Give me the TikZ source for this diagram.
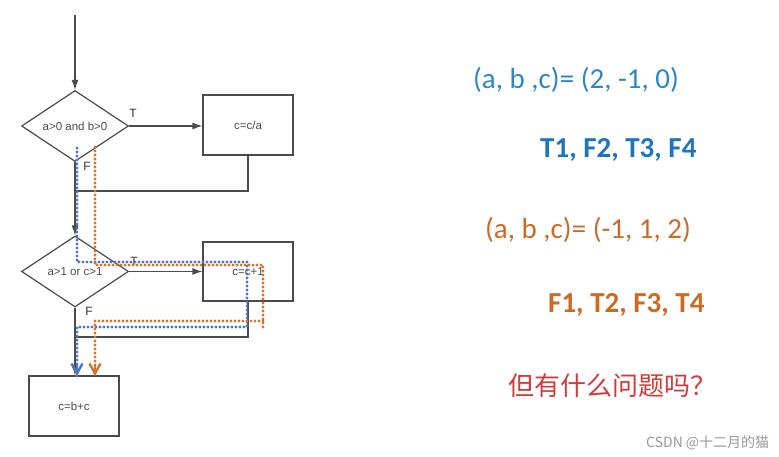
\documentclass[tikz,border=0pt]{standalone}
\usepackage{fontspec}
\setmainfont{Carlito}
\newfontfamily\flowfont{Liberation Sans}
\newfontfamily\cjk{Noto Sans CJK SC}
\usetikzlibrary{shapes.geometric,arrows.meta}
\definecolor{lineg}{HTML}{4A4A4A}
\definecolor{pblue}{HTML}{4A78C8}
\definecolor{porange}{HTML}{D2752E}
\definecolor{tblue}{HTML}{2E86C8}
\definecolor{tbblue}{HTML}{1F74BE}
\definecolor{torange}{HTML}{CC6A24}
\definecolor{tred}{HTML}{D23A3A}
\tikzset{
  flowline/.style={draw=lineg, line width=1.2pt},
  flowarrow/.style={flowline, -{Latex[length=10pt,width=7pt]}},
  decision/.style={diamond, draw=lineg, line width=1.2pt, inner sep=0pt,
    minimum width=107pt, minimum height=71pt, aspect=1.5,
    font=\flowfont\fontsize{11.5}{13}\selectfont, text=black!70},
  procbox/.style={rectangle, draw=lineg, line width=1.2pt, minimum width=90pt,
    minimum height=60pt, font=\flowfont\fontsize{11.5}{13}\selectfont, text=black!70},
  branchlabel/.style={font=\flowfont\fontsize{12}{14}\selectfont, text=black!80},
  dotpath/.style={line width=3.2pt, line cap=round, dash pattern=on 0pt off 4pt},
  opentip/.style={-{Straight Barb[length=10pt,width=11pt,line width=2.4pt]}},
  sidetext/.style={font=\fontsize{29}{32}\selectfont, anchor=west, inner sep=0pt},
  boldtext/.style={font=\bfseries\fontsize{29}{32}\selectfont, anchor=west, inner sep=0pt},
}
\begin{document}
\begin{tikzpicture}[x=1pt,y=-1pt]
\useasboundingbox (0,0) rectangle (779,457);
% nodes
\coordinate (start) at (75,15);
\node[decision] (d1) at (75,126) {a>0 and b>0};
\node[procbox] (b1) at (248,125) {c=c/a};
\node[decision] (d2) at (75,271.5) {a>1 or c>1};
\node[procbox, minimum height=59pt] (b2) at (248,271.5) {c=c+1};
\node[procbox] (b3) at (74,406) {c=b+c};
\node[branchlabel] (t1) at (133,113) {T};
\node[branchlabel] (f1) at (87,166) {F};
\node[branchlabel] (t2) at (134,261) {T};
\node[branchlabel] (f2) at (89,311) {F};
% connectors
\coordinate (m1) at (75,191);
\coordinate (m2) at (75,337);
\draw[flowarrow] (start) -- (d1.north);
\draw[flowarrow] (d1.east) -- (d1.east -| b1.west);
\draw[flowarrow] (d1.south) -- (d2.north);
\draw[flowline] (b1.south) |- (m1);
\draw[flowarrow] (d2.east) -- (d2.east -| b2.west);
\draw[flowarrow] (d2.south) -- (d2.south |- b3.north);
\draw[flowline] (b2.south) |- (m2);
% blue path
\coordinate (pb0) at (77,148);
\coordinate (pb1) at (77,262);
\coordinate (pb2) at (247,262);
\coordinate (pb3) at (247,327);
\coordinate (pb4) at (77,327);
\coordinate (pb5) at (77,376);
\draw[pblue, dotpath] (pb0) -- (pb1) -- (pb2) -- (pb3) -- (pb4) -- (pb5);
\draw[pblue, line width=2.4pt, opentip] (77,366) -- (pb5);
% orange path
\coordinate (po0) at (95,147);
\coordinate (po1) at (95,265);
\coordinate (po2) at (263,265);
\coordinate (po3) at (263,327);
\coordinate (po3b) at (263,321);
\coordinate (po4) at (95,321);
\coordinate (po5) at (95,376);
\draw[porange, dotpath] (po0) -- (po1) -- (po2) -- (po3);
\draw[porange, dotpath] (po3b) -- (po4) -- (po5);
\draw[porange, line width=2.4pt, opentip] (95,366) -- (po5);
% right side texts
\node[sidetext, text=tblue] (s1) at (473,80) {(a, b ,c)= (2, -1, 0)};
\node[boldtext, text=tbblue] (s2) at (540,150) {T1, F2, T3, F4};
\node[sidetext, text=torange] (s3) at (485,230) {(a, b ,c)= (-1, 1, 2)};
\node[boldtext, text=torange] (s4) at (548,305) {F1, T2, F3, T4};
\node[anchor=west, inner sep=0pt, text=tred, font=\cjk\fontsize{26}{30}\selectfont] (s5) at (508,386) {但有什么问题吗？};
\node[anchor=west, inner sep=0pt, text=black!40, font=\cjk\fontsize{14}{16}\selectfont] (wm) at (646,443) {CSDN @十二月的猫};
\end{tikzpicture}
\end{document}
